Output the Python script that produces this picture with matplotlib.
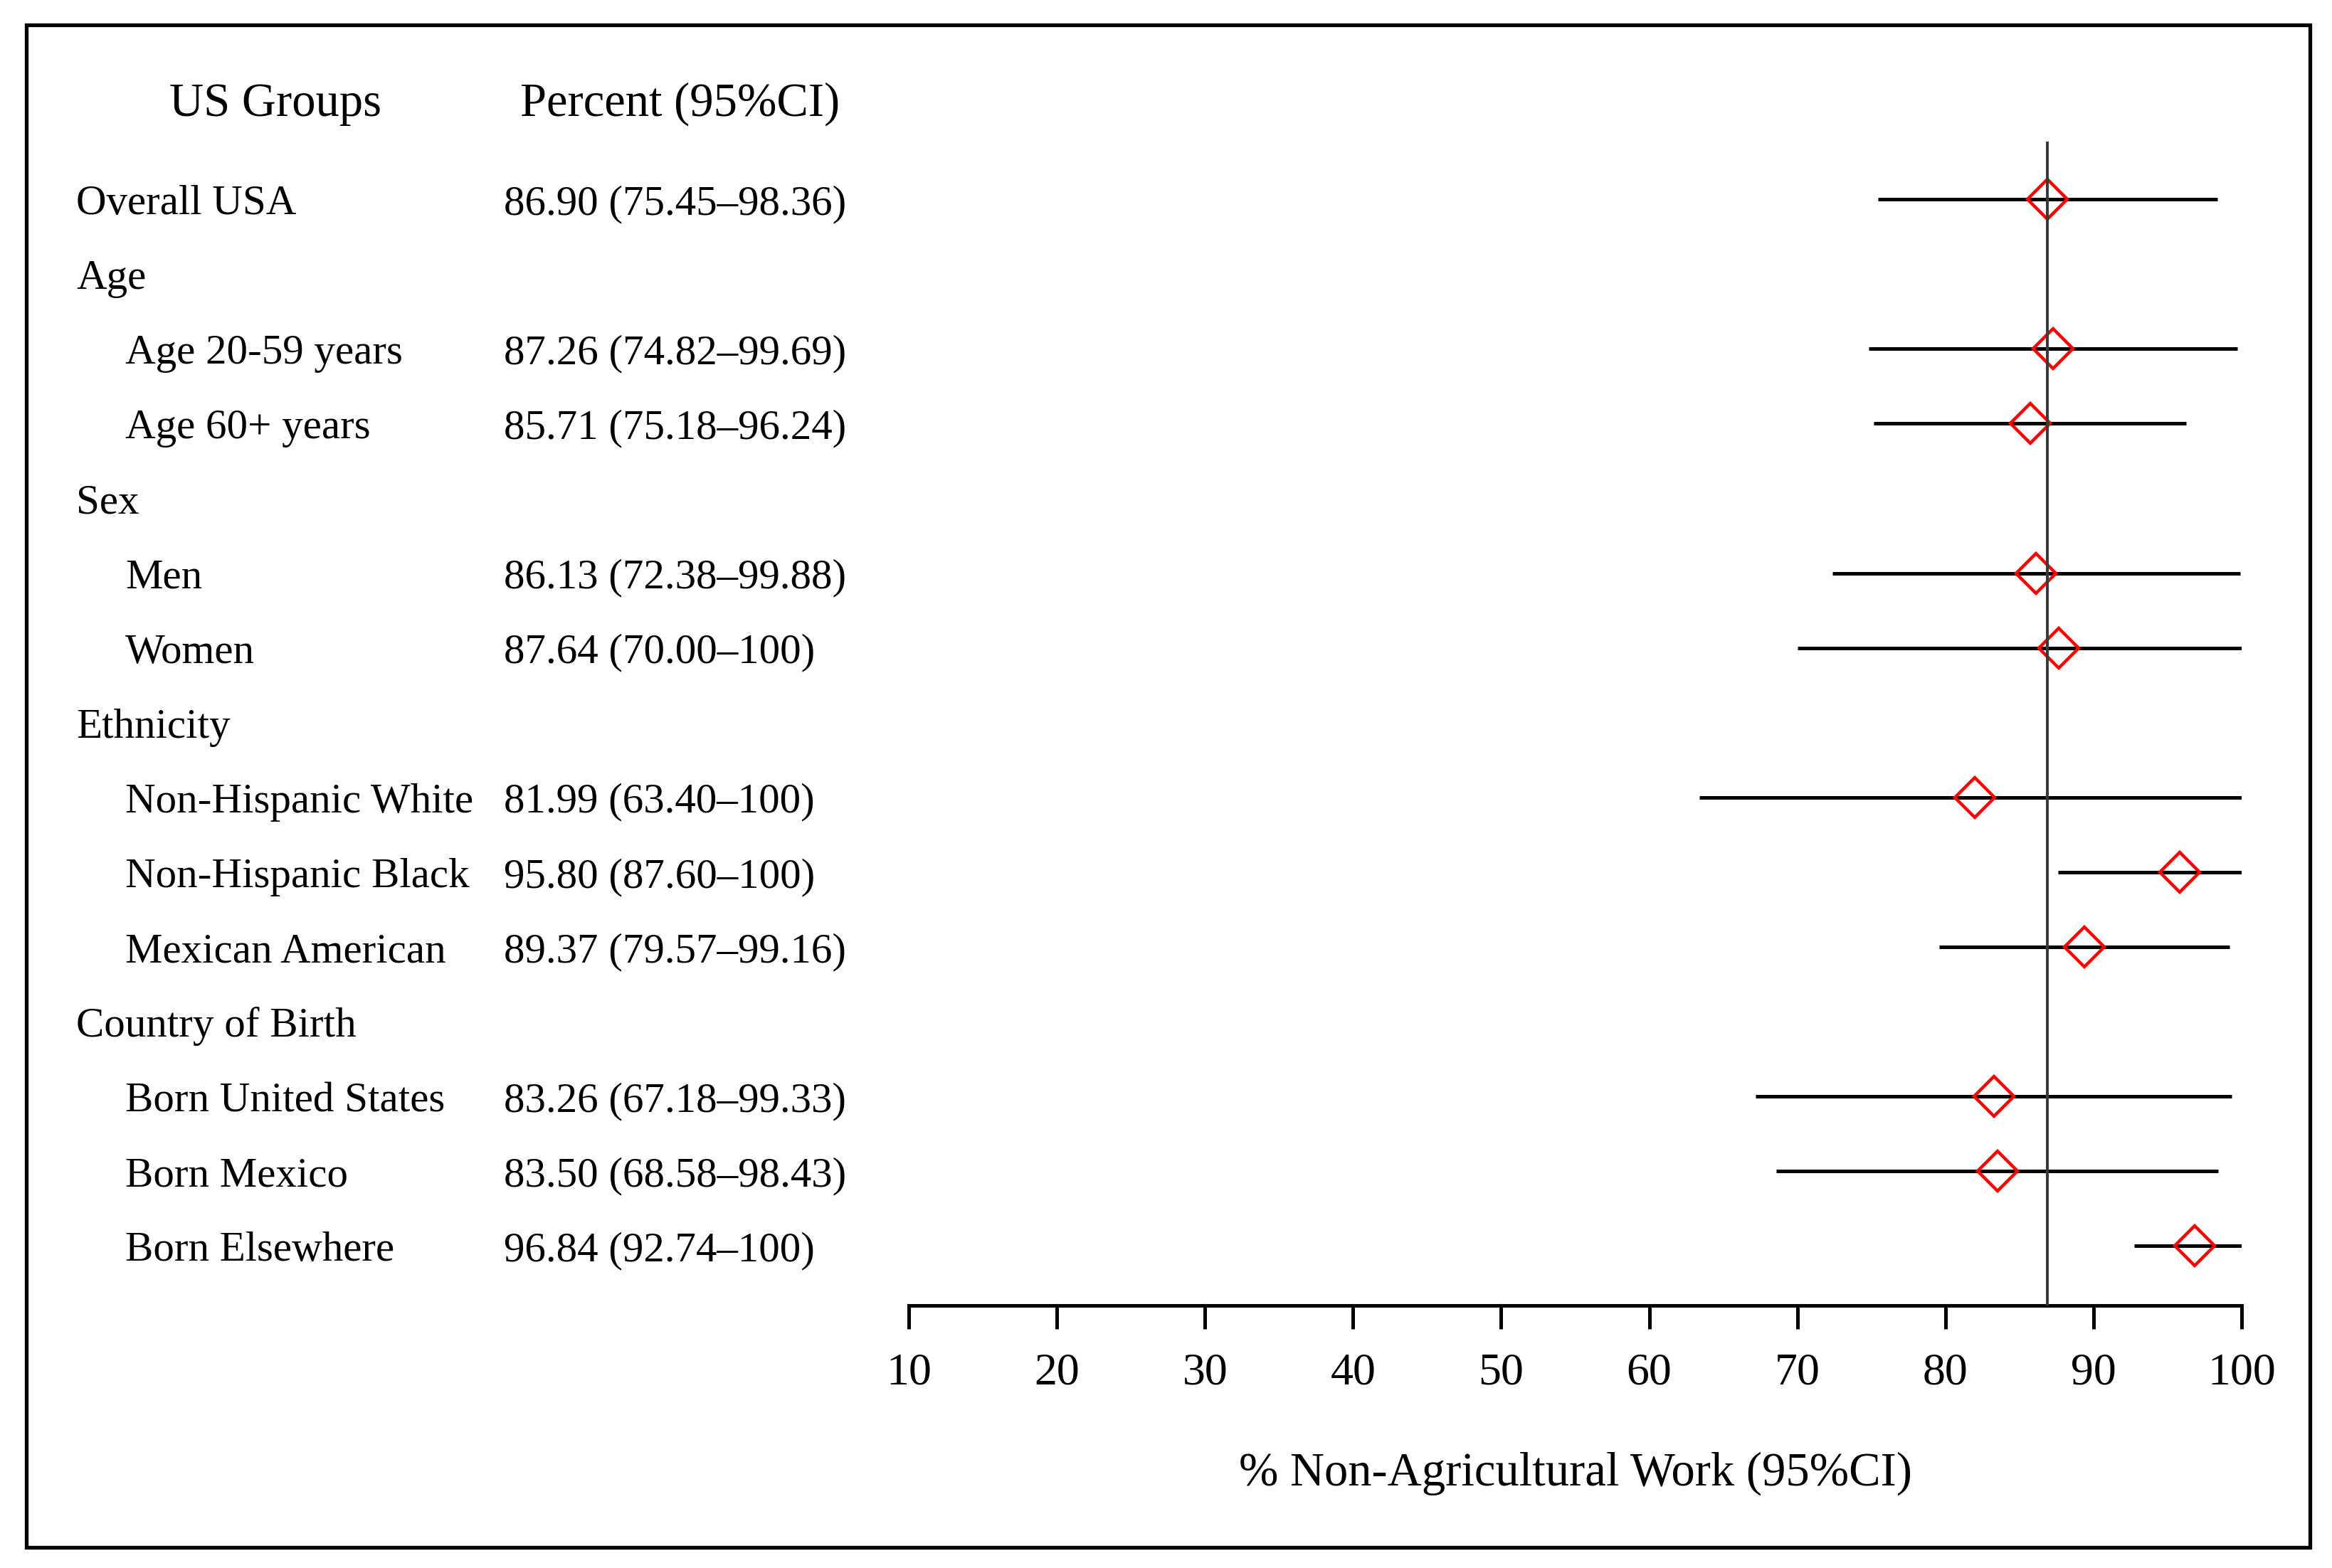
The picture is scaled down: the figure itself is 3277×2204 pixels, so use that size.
import matplotlib
matplotlib.use("Agg")
import matplotlib.pyplot as plt
import matplotlib.transforms as mtransforms
from matplotlib.patches import Rectangle

plt.rcParams["font.family"] = ["Liberation Serif", "DejaVu Serif"]

# rows of the forest plot, top to bottom (None = section heading row)
groups = ["Overall USA", "Age", "Age 20-59 years", "Age 60+ years", "Sex",
          "Men", "Women", "Ethnicity", "Non-Hispanic White",
          "Non-Hispanic Black", "Mexican American", "Country of Birth",
          "Born United States", "Born Mexico", "Born Elsewhere"]
indented = [False, False, True, True, False, True, True, False, True,
            True, True, False, True, True, True]
estimate = [86.90, None, 87.26, 85.71, None, 86.13, 87.64, None, 81.99,
            95.80, 89.37, None, 83.26, 83.50, 96.84]
ci_low = [75.45, None, 74.82, 75.18, None, 72.38, 70.00, None, 63.40,
          87.60, 79.57, None, 67.18, 68.58, 92.74]
ci_high = [98.36, None, 99.69, 96.24, None, 99.88, 100, None, 100,
           100, 99.16, None, 99.33, 98.43, 100]
overall_value = 86.90
xticks = [10, 20, 30, 40, 50, 60, 70, 80, 90, 100]

W, H = 3277, 2204
fig = plt.figure(figsize=(W / 100, H / 100), dpi=100)

# frame around everything
fig.patches.append(Rectangle((37 / W, 1 - 2175 / H), (3246 - 37) / W,
                             (2175 - 35) / H, transform=fig.transFigure,
                             fill=False, edgecolor="black", linewidth=3.8))

x0, x1 = 1277, 3150
ytop, ybot = 199, 1835
ax = fig.add_axes([x0 / W, 1 - ybot / H, (x1 - x0) / W, (ybot - ytop) / H])
ax.set_facecolor("none")

row_h = 105.1
first_row = 280
ax.set_xlim(10, 100)
ax.set_ylim((ybot - first_row) / row_h, (ytop - first_row) / row_h)

for i, (est, lo, hi) in enumerate(zip(estimate, ci_low, ci_high)):
    if est is None:
        continue
    ax.plot([lo, hi], [i, i], color="black", linewidth=3.6, zorder=2,
            solid_capstyle="butt")
    ax.plot(est, i, marker="D", markersize=28.5, markerfacecolor="none",
            markeredgecolor="#ff0000", markeredgewidth=3.2, zorder=3)

ax.axvline(overall_value, color="#383838", linewidth=2.8, zorder=4)

for s in ["left", "top", "right"]:
    ax.spines[s].set_visible(False)
ax.spines["bottom"].set_linewidth(3.6)
ax.set_yticks([])
ax.set_xticks(xticks)
ax.tick_params(axis="x", direction="out", length=24, width=3.6,
               labelsize=46, pad=24)
ax.set_xlabel("% Non-Agricultural Work (95%CI)", fontsize=48, labelpad=58)

# text columns: x in figure fraction, y in row units
tr = mtransforms.blended_transform_factory(fig.transFigure, ax.transData)
base_off = 21 / row_h


def fmt(v):
    return "100" if v == 100 else f"{v:.2f}"


head_y = (163 - first_row) / row_h
ax.text(387 / W, head_y, "US Groups", transform=tr, ha="center",
        va="baseline", fontsize=48)
ax.text(956 / W, head_y, "Percent (95%CI)", transform=tr, ha="center",
        va="baseline", fontsize=48)

for i, name in enumerate(groups):
    xx = 176 / W if indented[i] else 107 / W
    ax.text(xx, i + base_off, name, transform=tr, ha="left",
            va="baseline", fontsize=42.5)
    if estimate[i] is not None:
        label = f"{fmt(estimate[i])} ({fmt(ci_low[i])}\u2013{fmt(ci_high[i])})"
        ax.text(708 / W, i + base_off, label, transform=tr, ha="left",
                va="baseline", fontsize=42.5)

fig.savefig("out.png", dpi=100, facecolor="white")
